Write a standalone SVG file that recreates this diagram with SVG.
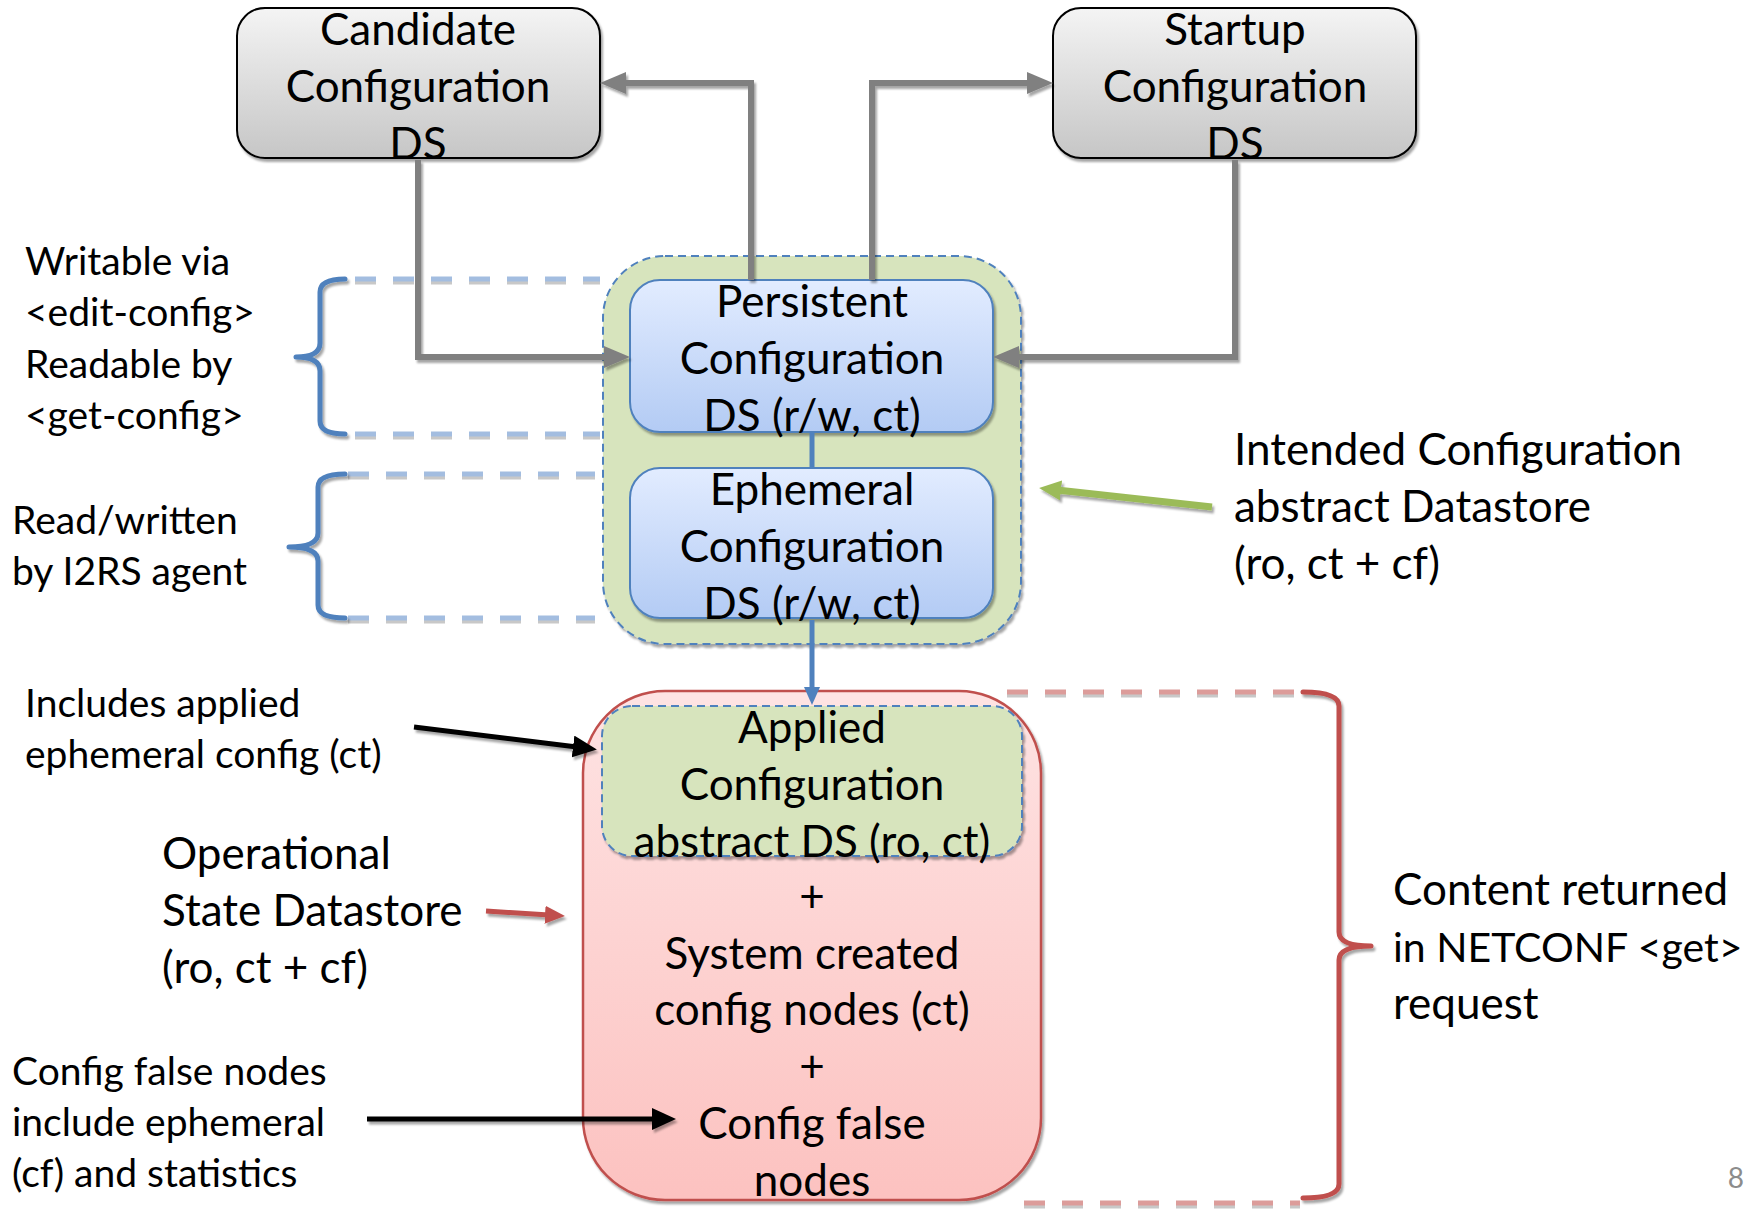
<svg xmlns="http://www.w3.org/2000/svg" width="1760" height="1210" viewBox="0 0 1760 1210">
<defs>
<style>
text{font-family:Lato,"Liberation Sans",sans-serif;fill:#000}
.big{font-size:44px;text-anchor:middle}
.lbl{font-size:44px}
.sm{font-size:39px}
.gconn{fill:none;stroke:#808080;stroke-width:6}
.dashB{fill:none;stroke:#a3bde0;stroke-width:5;stroke-dasharray:21 17}
.dashR{fill:none;stroke:#dc9c9a;stroke-width:5;stroke-dasharray:21 17}
.dashS{fill:none;stroke:#c8c8c8;stroke-width:5;stroke-dasharray:21 17}
</style>
<linearGradient id="gGray" x1="0" y1="0" x2="0" y2="1"><stop offset="0" stop-color="#f4f4f4"/><stop offset="1" stop-color="#c6c6c6"/></linearGradient>
<linearGradient id="gBlue" x1="0" y1="0" x2="0" y2="1"><stop offset="0" stop-color="#e2ecff"/><stop offset="1" stop-color="#b3cbf4"/></linearGradient>
<linearGradient id="gRed" x1="0" y1="0" x2="0" y2="1"><stop offset="0" stop-color="#fee3e3"/><stop offset="1" stop-color="#fcc2c0"/></linearGradient>
<filter id="sh" filterUnits="userSpaceOnUse" x="0" y="0" width="1760" height="1210"><feDropShadow dx="2" dy="3" stdDeviation="1" flood-color="#000" flood-opacity="0.35"/></filter>
<marker id="aGray" markerUnits="userSpaceOnUse" viewBox="0 0 26 22" markerWidth="26" markerHeight="22" refX="4" refY="11" orient="auto"><path d="M0,0 L26,11 L0,22 z" fill="#808080"/></marker>
<marker id="aBlue" markerUnits="userSpaceOnUse" viewBox="0 0 18 16" markerWidth="18" markerHeight="16" refX="3" refY="8" orient="auto"><path d="M0,0 L18,8 L0,16 z" fill="#4f81bd"/></marker>
<marker id="aBlack" markerUnits="userSpaceOnUse" viewBox="0 0 24 22" markerWidth="24" markerHeight="22" refX="4" refY="11" orient="auto"><path d="M0,0 L24,11 L0,22 z" fill="#000"/></marker>
<marker id="aRed" markerUnits="userSpaceOnUse" viewBox="0 0 20 18" markerWidth="20" markerHeight="18" refX="4" refY="9" orient="auto"><path d="M0,0 L20,9 L0,18 z" fill="#c0504d"/></marker>
<marker id="aGreen" markerUnits="userSpaceOnUse" viewBox="0 0 22 20" markerWidth="22" markerHeight="20" refX="4" refY="10" orient="auto"><path d="M0,0 L22,10 L0,20 z" fill="#9bbb59"/></marker>
</defs>
<rect width="1760" height="1210" fill="#fff"/>

<g id="intended">
<rect x="603" y="256" width="418" height="388" rx="62" fill="#d7e4bd" stroke="#4f81bd" stroke-width="2" stroke-dasharray="8 5" filter="url(#sh)"/>
</g>

<g id="operational">
<rect x="583" y="691" width="458" height="509" rx="82" fill="url(#gRed)" stroke="#c0504d" stroke-width="2.5" filter="url(#sh)"/>
</g>

<g id="applied">
<rect x="602" y="706" width="420" height="150" rx="30" fill="#d7e4bd" stroke="#4f81bd" stroke-width="2" stroke-dasharray="8 5" filter="url(#sh)"/>
<text class="big" x="812" y="743">Applied</text>
<text class="big" x="812" y="800">Configuration</text>
<text class="big" x="812" y="857">abstract DS (ro, ct)</text>
</g>

<g id="operational-text">
<text class="big" x="812" y="912">+</text>
<text class="big" x="812" y="969">System created</text>
<text class="big" x="812" y="1025">config nodes (ct)</text>
<text class="big" x="812" y="1082">+</text>
<text class="big" x="812" y="1139">Config false</text>
<text class="big" x="812" y="1196">nodes</text>
</g>

<g id="candidate">
<rect x="237" y="8" width="363" height="150" rx="28" fill="url(#gGray)" stroke="#000" stroke-width="2" filter="url(#sh)"/>
<text class="big" x="418" y="45">Candidate</text>
<text class="big" x="418" y="102">Configuration</text>
<text class="big" x="418" y="159">DS</text>
</g>

<g id="startup">
<rect x="1053" y="8" width="363" height="150" rx="28" fill="url(#gGray)" stroke="#000" stroke-width="2" filter="url(#sh)"/>
<text class="big" x="1235" y="45">Startup</text>
<text class="big" x="1235" y="102">Configuration</text>
<text class="big" x="1235" y="159">DS</text>
</g>

<g id="persistent">
<rect x="630" y="280" width="363" height="152" rx="30" fill="url(#gBlue)" stroke="#4f81bd" stroke-width="2" filter="url(#sh)"/>
<text class="big" x="812" y="317">Persistent</text>
<text class="big" x="812" y="374">Configuration</text>
<text class="big" x="812" y="431">DS (r/w, ct)</text>
</g>

<g id="ephemeral">
<rect x="630" y="468" width="363" height="150" rx="30" fill="url(#gBlue)" stroke="#4f81bd" stroke-width="2" filter="url(#sh)"/>
<text class="big" x="812" y="505">Ephemeral</text>
<text class="big" x="812" y="562">Configuration</text>
<text class="big" x="812" y="619">DS (r/w, ct)</text>
</g>

<g id="connectors">
<path class="gconn" d="M418 160 V357 H608" marker-end="url(#aGray)" filter="url(#sh)"/>
<path class="gconn" d="M1235 160 V357 H1015" marker-end="url(#aGray)" filter="url(#sh)"/>
<path class="gconn" d="M751 280 V83 H622" marker-end="url(#aGray)" filter="url(#sh)"/>
<path class="gconn" d="M872 280 V83 H1031" marker-end="url(#aGray)" filter="url(#sh)"/>
<path d="M812 432 V468" stroke="#4f81bd" stroke-width="5" fill="none"/>
<path d="M812 620 V690" stroke="#4f81bd" stroke-width="5" fill="none" marker-end="url(#aBlue)"/>
<path d="M1212 507 L1057 490" stroke="#9bbb59" stroke-width="7" fill="none" marker-end="url(#aGreen)" filter="url(#sh)"/>
<path d="M414 727 L577 747" stroke="#000" stroke-width="5" fill="none" marker-end="url(#aBlack)" filter="url(#sh)"/>
<path d="M486 911 L549 915" stroke="#c0504d" stroke-width="5" fill="none" marker-end="url(#aRed)" filter="url(#sh)"/>
<path d="M367 1119 L656 1119" stroke="#000" stroke-width="5" fill="none" marker-end="url(#aBlack)" filter="url(#sh)"/>
</g>

<g id="braces">
<path class="dashS" d="M355 282 H600 M355 437 H600 M348 477 H595 M348 621 H595 M1007 695 H1295 M1024 1206 H1300"/>
<path class="dashB" d="M355 279 H600 M355 434 H600 M348 474 H595 M348 618 H595"/>
<path class="dashR" d="M1007 692 H1295 M1024 1203 H1300"/>
<g fill="none" stroke-width="5" stroke-linecap="round" stroke-linejoin="round" filter="url(#sh)">
<path stroke="#4f81bd" d="M345 279 Q320 279 320 292 V343 Q320 357 296 357 Q320 357 320 371 V421 Q320 434 345 434"/>
<path stroke="#4f81bd" d="M345 474 Q318 474 318 487 V533 Q318 547 289 547 Q318 547 318 561 V605 Q318 618 345 618"/>
<path stroke="#c0504d" d="M1303 692 Q1339 692 1339 706 V932 Q1339 946 1371 946 Q1339 946 1339 960 V1184 Q1339 1198 1303 1198"/>
</g>
</g>

<g id="labels">
<text class="sm" x="25" y="275">Writable via</text>
<text class="sm" x="25" y="326">&lt;edit-config&gt;</text>
<text class="sm" x="25" y="378">Readable by</text>
<text class="sm" x="25" y="429">&lt;get-config&gt;</text>
<text class="sm" x="12" y="534">Read/written</text>
<text class="sm" x="12" y="585">by I2RS agent</text>
<text class="lbl" x="1234" y="465">Intended Configuration</text>
<text class="lbl" x="1234" y="522">abstract Datastore</text>
<text class="lbl" x="1234" y="579">(ro, ct + cf)</text>
<text class="sm" x="25" y="717">Includes applied</text>
<text class="sm" x="25" y="768">ephemeral config (ct)</text>
<text class="lbl" x="162" y="869">Operational</text>
<text class="lbl" x="162" y="926">State Datastore</text>
<text class="lbl" x="162" y="983">(ro, ct + cf)</text>
<text class="sm" x="12" y="1085">Config false nodes</text>
<text class="sm" x="12" y="1136">include ephemeral</text>
<text class="sm" x="12" y="1187">(cf) and statistics</text>
<text class="lbl" x="1393" y="905">Content returned</text>
<text class="lbl" x="1393" y="962" style="font-size:41px">in NETCONF &lt;get&gt;</text>
<text class="lbl" x="1393" y="1019">request</text>
<text x="1744" y="1188" style="font-size:28px;fill:#8c8c8c;text-anchor:end">8</text>
</g>
</svg>
